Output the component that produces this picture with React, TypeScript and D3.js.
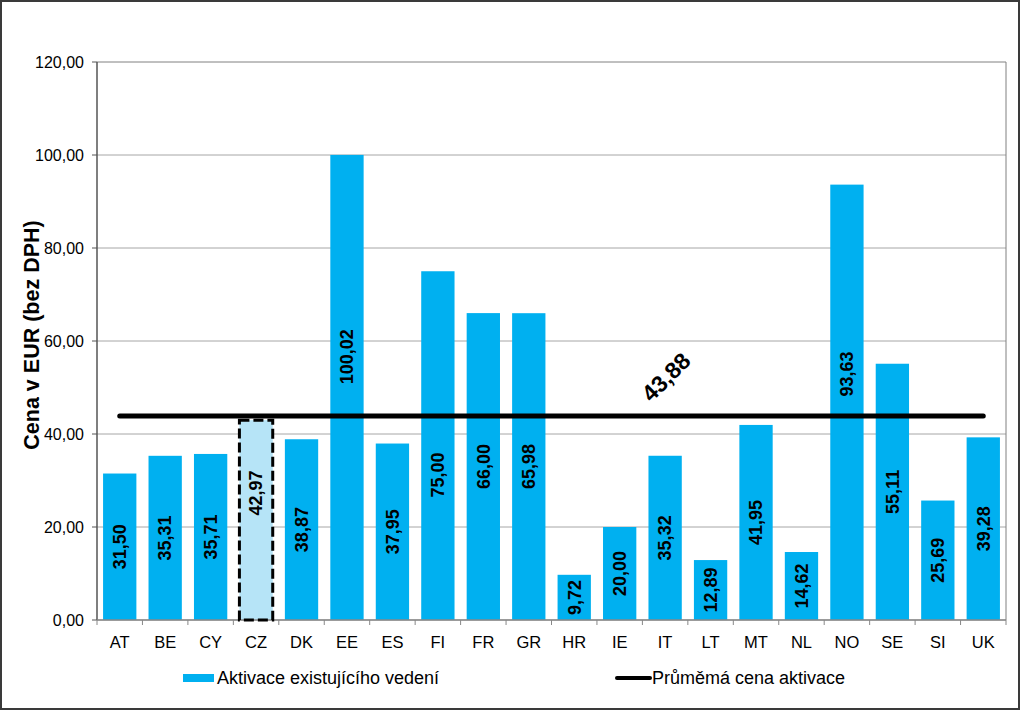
import React from "react";
import * as d3 from "d3";

const categories = ["AT","BE","CY","CZ","DK","EE","ES","FI","FR","GR","HR","IE","IT","LT","MT","NL","NO","SE","SI","UK"];
const values = [31.50,35.31,35.71,42.97,38.87,100.02,37.95,75.00,66.00,65.98,9.72,20.00,35.32,12.89,41.95,14.62,93.63,55.11,25.69,39.28];
const valueLabels = ["31,50","35,31","35,71","42,97","38,87","100,02","37,95","75,00","66,00","65,98","9,72","20,00","35,32","12,89","41,95","14,62","93,63","55,11","25,69","39,28"];
// value-axis position where each label is centred (null = middle of bar)
const labelAnchor: (number | null)[] = [null,null,null,27.3,null,56.6,null,31.2,null,null,null,null,null,null,null,null,52.9,null,null,null];
const highlighted = "CZ";
const average = 43.88;
const averageLabel = "43,88";
const yTicks = [0,20,40,60,80,100,120];
const yTickLabels = ["0,00","20,00","40,00","60,00","80,00","100,00","120,00"];
const yTitle = "Cena v EUR (bez DPH)";
const legendBar = "Aktivace existujícího vedení";
const legendLine = "Průměmá cena aktivace";

const W = 1024, H = 712;
const left = 97, right = 1006, top = 62, bottom = 620;
const font = "Arial, 'Liberation Sans', sans-serif";

export default function App() {
  const x = d3.scaleBand<string>().domain(categories).range([left, right]).paddingInner(0.267).paddingOuter(0.1335);
  const y = d3.scaleLinear().domain([0, 120]).range([bottom, top]);
  const step = x.step();
  const bounds = d3.range(categories.length + 1).map(i => left + i * step);
  const cx = (c: string) => (x(c) as number) + x.bandwidth() / 2;
  const lineX0 = cx(categories[0]);
  const lineX1 = cx(categories[categories.length - 1]);
  const hi = categories.indexOf(highlighted);

  return (
    <svg width={W} height={H} style={{ position: "absolute", left: 0, top: 0, background: "#fff" }} fontFamily={font}>
      <rect x={1} y={1} width={1018} height={708} fill="#fff" stroke="#3a3a3a" strokeWidth={2} />
      {/* gridlines */}
      {yTicks.map(t => (
        <line key={"g" + t} x1={left} x2={right} y1={y(t)} y2={y(t)} stroke={t === 120 ? "#808080" : "#a6a6a6"} strokeWidth={1} />
      ))}
      <line x1={right} x2={right} y1={top} y2={bottom} stroke="#808080" strokeWidth={1} />
      {/* bars */}
      {categories.map((c, i) => {
        const hl = c === highlighted;
        return (
          <rect key={c} x={x(c)} y={y(values[i])} width={x.bandwidth()} height={bottom - y(values[i])}
            fill={hl ? "#b6e4f7" : "#00b0f0"} />
        );
      })}
      {/* axes */}
      <line x1={left} x2={left} y1={top} y2={bottom} stroke="#555" strokeWidth={1.5} />
      <line x1={left} x2={right} y1={bottom} y2={bottom} stroke="#888" strokeWidth={1.5} />
      {/* highlight outline */}
      <rect x={x(highlighted)} y={y(values[hi])} width={x.bandwidth()} height={bottom - y(values[hi])}
        fill="none" stroke="#000" strokeWidth={3} strokeDasharray="10 4" />
      {yTicks.map((t, i) => (
        <g key={"t" + t}>
          <line x1={left - 5} x2={left} y1={y(t)} y2={y(t)} stroke="#555" strokeWidth={1} />
          <text x={84} y={y(t)} dy="0.35em" textAnchor="end" fontSize={16} fill="#000">{yTickLabels[i]}</text>
        </g>
      ))}
      {bounds.map((b, i) => (
        <line key={"b" + i} x1={b} x2={b} y1={bottom} y2={bottom + 5} stroke="#888" strokeWidth={1} />
      ))}
      {categories.map(c => (
        <text key={"x" + c} x={cx(c)} y={642} dy="0.35em" textAnchor="middle" fontSize={16.5} fill="#000">{c}</text>
      ))}
      {/* average line */}
      <line x1={lineX0} x2={lineX1} y1={y(average)} y2={y(average)} stroke="#000" strokeWidth={5} strokeLinecap="round" />
      <text transform={`translate(666,377) rotate(-45)`} textAnchor="middle" dy="0.35em" fontSize={23} fontWeight="bold" fill="#000">{averageLabel}</text>
      {/* value labels */}
      {categories.map((c, i) => {
        const a = labelAnchor[i] ?? values[i] / 2;
        return (
          <text key={"v" + c} transform={`translate(${cx(c)},${y(a)}) rotate(-90)`} textAnchor="middle" dy="0.35em"
            fontSize={18} fontWeight="bold" fill="#000">{valueLabels[i]}</text>
        );
      })}
      {/* y title */}
      <text transform={`translate(31,335) rotate(-90)`} textAnchor="middle" dy="0.35em" fontSize={21.5} fontWeight="bold" fill="#000">{yTitle}</text>
      {/* legend */}
      <rect x={183} y={674} width={31} height={8} fill="#00b0f0" />
      <text x={217} y={678} dy="0.35em" fontSize={18} fill="#000">{legendBar}</text>
      <line x1={617} x2={650} y1={678} y2={678} stroke="#000" strokeWidth={4} strokeLinecap="round" />
      <text x={652} y={678} dy="0.35em" fontSize={18} fill="#000">{legendLine}</text>
    </svg>
  );
}
